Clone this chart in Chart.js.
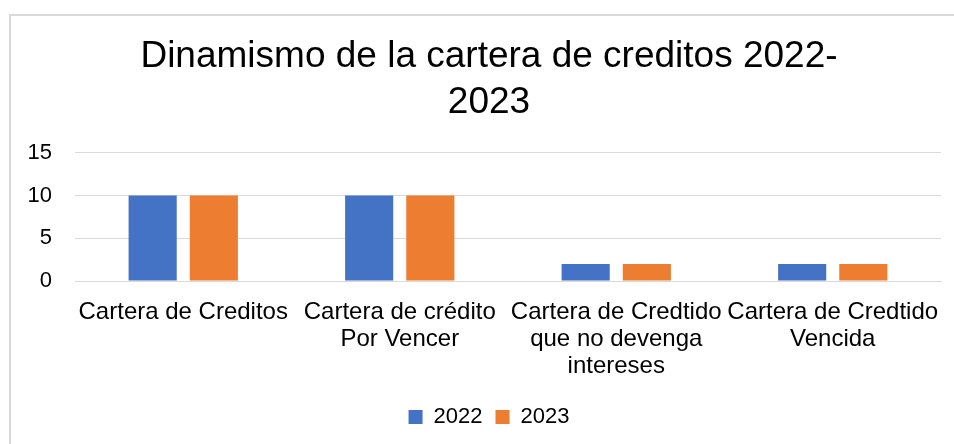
<!DOCTYPE html>
<html>
<head>
<meta charset="utf-8">
<script src="https://cdn.jsdelivr.net/npm/chart.js@4/dist/chart.umd.min.js"></script>
<style>
  html, body { margin: 0; padding: 0; background: #fff; }
  #wrap { position: relative; width: 954px; height: 444px; overflow: hidden; }
  #frame { position: absolute; left: 9px; top: 14px; width: 980px; height: 480px; border: 2px solid #d9d9d9; box-sizing: border-box; }
  #c { position: absolute; left: 0; top: 0; }
</style>
</head>
<body>
<div id="wrap">
  <div id="frame"></div>
  <canvas id="c" width="954" height="444"></canvas>
</div>
<script>
const titleLines = ["Dinamismo de la cartera de creditos 2022-", "2023"];
const categories = [
  ["Cartera de Creditos"],
  ["Cartera de crédito", "Por Vencer"],
  ["Cartera de Credtido", "que no devenga", "intereses"],
  ["Cartera de Credtido", "Vencida"]
];
const seriesNames = ["2022", "2023"];
const values2022 = [10, 10, 2, 2];
const values2023 = [10, 10, 2, 2];
const yTicks = [0, 5, 10, 15];

const FONT = "'Liberation Sans', Arial, sans-serif";

// widen the y-axis label clip area so the tick labels are not cut off
const widenYLabelArea = {
  id: 'widenYLabelArea',
  afterLayout(chart) { chart.scales.y.left = 0; }
};

new Chart(document.getElementById('c'), {
  type: 'bar',
  data: {
    labels: categories,
    datasets: [
      { label: seriesNames[0], data: values2022, backgroundColor: '#4472C4', borderWidth: 0 },
      { label: seriesNames[1], data: values2023, backgroundColor: '#ED7D31', borderWidth: 0 }
    ]
  },
  plugins: [widenYLabelArea],
  options: {
    responsive: false,
    animation: false,
    devicePixelRatio: 1,
    layout: { padding: { top: 34, right: 13, bottom: 6, left: 37 } },
    categoryPercentage: 0.565,
    barPercentage: 0.787,
    plugins: {
      title: {
        display: true,
        text: titleLines,
        color: '#000',
        font: { family: FONT, size: 37, weight: 'normal', lineHeight: 1.24 },
        padding: { top: 0, bottom: 27 }
      },
      legend: {
        position: 'bottom',
        labels: {
          color: '#000',
          font: { family: FONT, size: 22 },
          boxWidth: 14,
          boxHeight: 14,
          padding: 13
        }
      },
      tooltip: { enabled: false }
    },
    scales: {
      x: {
        grid: { display: false, drawTicks: false },
        border: { display: true, color: '#d9d9d9', width: 1 },
        ticks: {
          color: '#000',
          font: { family: FONT, size: 24, lineHeight: 1.13 },
          padding: 18,
          maxRotation: 0,
          autoSkip: false
        },
        afterFit: (s) => { s.height = 112; s.paddingLeft = 0; s.paddingRight = 0; }
      },
      y: {
        min: 0,
        max: 15,
        afterBuildTicks: (s) => { s.ticks = yTicks.map(v => ({ value: v })); },
        grid: { color: '#d9d9d9', lineWidth: 1, drawTicks: false },
        border: { display: false },
        ticks: {
          color: '#000',
          font: { family: FONT, size: 22 },
          padding: 23
        },
        afterFit: (s) => { s.width = 38; }
      }
    }
  }
});
</script>
</body>
</html>
